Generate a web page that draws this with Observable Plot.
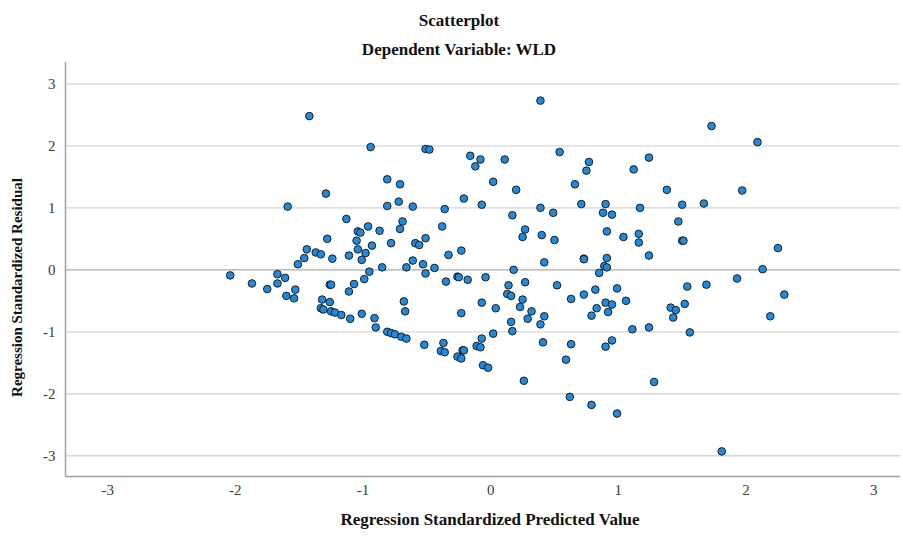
<!DOCTYPE html>
<html>
<head>
<meta charset="utf-8">
<script src="https://cdn.jsdelivr.net/npm/d3@7"></script>
<script src="https://cdn.jsdelivr.net/npm/@observablehq/plot@0.6"></script>
<style>
  html, body { margin: 0; padding: 0; background: #fff; }
  #wrap { position: relative; width: 903px; height: 536px; overflow: hidden; font-family: "Liberation Serif", "Times New Roman", serif; }
  #head { position: relative; width: 903px; height: 58px; }
  .t { position: absolute; left: 0; width: 918px; text-align: center; font-weight: bold; font-size: 17px; color: #111; line-height: 17px; }
</style>
</head>
<body>
<div id="wrap">
  <div id="head">
    <div class="t" id="title" style="top:12px"></div>
    <div class="t" id="subtitle" style="top:41px"></div>
  </div>
  <div id="chart"></div>
</div>
<script>
const chartTitle = "Scatterplot";
const chartSubtitle = "Dependent Variable: WLD";
const xTitle = "Regression Standardized Predicted Value";
const yTitle = "Regression Standardized Residual";
const xTicks = [-3, -2, -1, 0, 1, 2, 3];
const yTicks = [-3, -2, -1, 0, 1, 2, 3];

// Regression Standardized Predicted Value
const predicted = [
  -1.42, -1.29, -1.59, -1.13, -1.28, -1.44, -1.46, -1.37, -1.33, -1.24, -1.11, -1.51,
  -2.04, -1.87, -1.75, -1.67, -1.67, -1.61, -1.53, -1.60, -1.54, -1.26, -1.25, -1.11,
  -1.32, -1.26, -1.33, -1.31, -1.25, -1.22, -1.17, -1.10,
  -0.94, -0.51, -0.48, -0.16, -0.08, -0.12, 0.02, -0.81, -0.71, -0.81, -0.72, -0.61,
  -0.36, -0.21, -0.07, -0.96, -1.04, -1.02, -0.87, -0.69, -0.71, -0.38, -1.05, -0.93,
  -0.78, -0.59, -0.56, -0.51, -1.04, -0.98, -1.01, -0.33, -0.23, -0.85, -0.66, -0.61,
  -0.53, -0.44, -0.51, -0.95, -0.99, -1.07, -0.35, -0.26, -0.25, -0.18, -0.04, -0.68,
  -0.67, -0.07, 0.04, -0.23, -1.01, -0.91, -0.90, -0.81, -0.78, -0.75, -0.70, -0.66,
  -0.52, -0.37, -0.39, -0.36, -0.26, -0.23, -0.22, -0.21, -0.11, -0.08, -0.07, 0.02,
  -0.06, -0.02,
  0.39, 0.11, 0.54, 0.77, 0.75, 1.12, 1.24, 0.20, 0.66, 0.39, 0.49, 0.17,
  0.71, 0.90, 0.88, 0.95, 1.17, 0.27, 0.25, 0.40, 0.50, 0.91, 1.04, 1.16,
  1.16, 1.24, 0.42, 0.73, 0.73, 0.91, 0.89, 0.91, 0.85, 0.18, 0.14, 0.27,
  0.52, 0.13, 0.16, 0.25, 0.23, 0.32, 0.29, 0.42, 0.39, 0.16, 0.17, 0.63,
  0.73, 0.82, 0.99, 1.06, 0.90, 0.95, 0.83, 0.92, 0.79, 1.11, 1.24, 0.41,
  0.63, 0.95, 0.90, 0.59, 0.26, 0.62, 0.79, 0.99, 1.28,
  1.73, 2.09, 1.38, 1.97, 1.50, 1.67, 1.47, 1.50, 1.51, 2.25, 2.13, 1.93,
  1.54, 1.69, 2.30, 1.41, 1.45, 1.52, 1.43, 2.19, 1.56, 1.81
];
// Regression Standardized Residual
const residual = [
  2.48, 1.23, 1.02, 0.82, 0.50, 0.33, 0.19, 0.28, 0.25, 0.18, 0.23, 0.09,
  -0.09, -0.22, -0.31, -0.07, -0.22, -0.13, -0.32, -0.42, -0.46, -0.24, -0.24, -0.35,
  -0.48, -0.52, -0.62, -0.64, -0.67, -0.69, -0.73, -0.79,
  1.98, 1.95, 1.94, 1.84, 1.78, 1.67, 1.42, 1.46, 1.38, 1.03, 1.10, 1.02,
  0.98, 1.15, 1.05, 0.70, 0.62, 0.60, 0.63, 0.78, 0.66, 0.70, 0.47, 0.39,
  0.43, 0.43, 0.40, 0.51, 0.33, 0.27, 0.16, 0.24, 0.31, 0.04, 0.04, 0.15,
  0.09, 0.03, -0.06, -0.03, -0.15, -0.23, -0.19, -0.11, -0.12, -0.16, -0.12, -0.51,
  -0.67, -0.53, -0.62, -0.70, -0.71, -0.78, -0.93, -1.00, -1.02, -1.04, -1.08, -1.11,
  -1.21, -1.18, -1.31, -1.33, -1.40, -1.43, -1.30, -1.30, -1.23, -1.25, -1.11, -1.03,
  -1.54, -1.58,
  2.73, 1.78, 1.90, 1.74, 1.60, 1.62, 1.81, 1.29, 1.38, 1.00, 0.92, 0.88,
  1.06, 1.06, 0.92, 0.89, 1.00, 0.65, 0.53, 0.56, 0.48, 0.62, 0.53, 0.58,
  0.44, 0.23, 0.12, 0.18, 0.17, 0.19, 0.06, 0.04, -0.05, 0.00, -0.25, -0.20,
  -0.25, -0.39, -0.42, -0.48, -0.60, -0.67, -0.79, -0.75, -0.88, -0.84, -0.99, -0.47,
  -0.40, -0.32, -0.30, -0.50, -0.53, -0.56, -0.62, -0.68, -0.74, -0.96, -0.93, -1.17,
  -1.20, -1.14, -1.24, -1.45, -1.79, -2.05, -2.18, -2.32, -1.81,
  2.32, 2.06, 1.29, 1.28, 1.05, 1.07, 0.78, 0.47, 0.47, 0.35, 0.01, -0.14,
  -0.27, -0.24, -0.40, -0.61, -0.65, -0.55, -0.77, -0.75, -1.01, -2.93
];

const points = predicted.map((p, i) => ({predicted: p, residual: residual[i]}));

document.getElementById("title").textContent = chartTitle;
document.getElementById("subtitle").textContent = chartSubtitle;

const xDomain = [-3.33, 3.21];
const yDomain = [-3.335, 3.345];

const chart = Plot.plot({
  width: 903,
  height: 478,
  marginTop: 4,
  marginBottom: 60,
  marginLeft: 65,
  marginRight: 3,
  style: {fontFamily: "'Liberation Serif', 'Times New Roman', serif", fontSize: "15px", color: "#3a3a3a", background: "#fff"},
  x: {domain: xDomain},
  y: {domain: yDomain},
  marks: [
    Plot.ruleY(yTicks.filter(d => d !== 0), {stroke: "#d6d6d6", strokeWidth: 1.3}),
    Plot.ruleY([0], {stroke: "#ababab", strokeWidth: 1.2}),
    Plot.ruleX([xDomain[0]], {stroke: "#a0a0a0", strokeWidth: 1.5}),
    Plot.ruleY([yDomain[0]], {stroke: "#a0a0a0", strokeWidth: 1.5}),
    Plot.axisX({ticks: xTicks, tickSize: 0, tickPadding: 8, label: null, tickFormat: d => String(d)}),
    Plot.axisY({ticks: yTicks, tickSize: 0, tickPadding: 10, label: null, tickFormat: d => String(d)}),
    Plot.dot(points, {x: "predicted", y: "residual", r: 3.8, fill: "#1e8be0", stroke: "#1c1c1c", strokeWidth: 1}),
    Plot.text([xTitle], {frameAnchor: "bottom", textAnchor: "middle", dy: 48, dx: 7, fontWeight: "bold", fontSize: 17, fill: "#111"}),
    Plot.text([yTitle], {frameAnchor: "left", textAnchor: "middle", rotate: -90, dx: -48, dy: 18, fontWeight: "bold", fontSize: 15, fill: "#111"})
  ]
});
document.getElementById("chart").appendChild(chart);
</script>
</body>
</html>
